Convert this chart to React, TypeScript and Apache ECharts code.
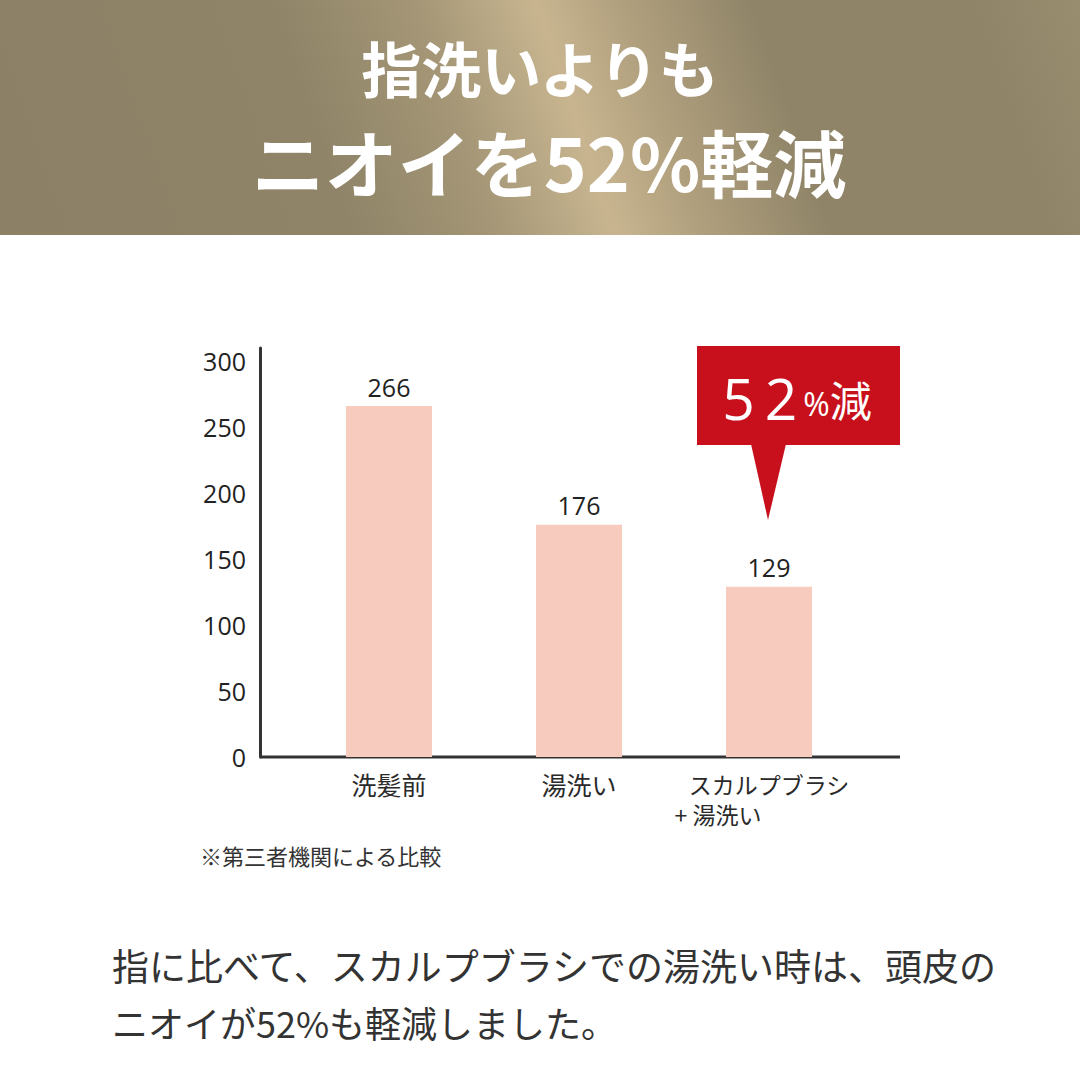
import React, { useEffect, useRef } from "react";
import * as echarts from "echarts";

const categories = ["洗髪前", "湯洗い", "スカルプブラシ\n+ 湯洗い"];
const values = [266, 176, 129];
const yTicks = [0, 50, 100, 150, 200, 250, 300];
const titleLines = ["指洗いよりも", "ニオイを52%軽減"];
const calloutText = { d1: "5", d2: "2", unit: "%", word: "減" };
const footnote = "※第三者機関による比較";
const bodyLines = [
  "指に比べて、スカルプブラシでの湯洗い時は、頭皮の",
  "ニオイが52%も軽減しました。",
];

const JP = '"Noto Sans CJK JP", "Noto Sans", sans-serif';
const NUM = '"Open Sans", "Noto Sans", sans-serif';

export default function App() {
  const ref = useRef<HTMLDivElement>(null);
  useEffect(() => {
    document.body.style.margin = "0";
    const chart = echarts.init(ref.current!, null, { renderer: "svg" });
    chart.setOption({
      animation: false,
      backgroundColor: "#ffffff",
      grid: { left: 294, right: 216, top: 348, bottom: 323 },
      xAxis: {
        type: "category",
        data: categories,
        axisLine: { show: false },
        axisTick: { show: false },
        axisLabel: {
          interval: 0,
          margin: 11,
          fontSize: 24,
          lineHeight: 32,
          color: "#2a2a2a",
          fontFamily: JP,
          formatter: (v: string) => {
            const parts = v.split("\n");
            if (parts.length === 1) return `{s|${parts[0]}}`;
            return `{a|${parts[0]}}\n{b|${parts[1]}}`;
          },
          rich: {
            s: { fontSize: 25, fontFamily: JP, color: "#2a2a2a", lineHeight: 32 },
            a: { fontSize: 23, fontFamily: JP, color: "#2a2a2a", lineHeight: 32, padding: [0, 14, 0, 14] },
            b: { fontSize: 23, fontFamily: JP, color: "#2a2a2a", lineHeight: 28, align: "left" },
          },
        },
      },
      yAxis: {
        type: "value",
        min: 0,
        max: 310,
        interval: 50,
        offset: 34,
        splitLine: { show: false },
        axisTick: { show: false },
        axisLine: { show: true, lineStyle: { color: "#333333", width: 3 } },
        axisLabel: {
          margin: 14,
          fontSize: 25,
          color: "#222222",
          fontFamily: NUM,
          showMaxLabel: false,
          formatter: (v: number) => (yTicks.includes(v) ? String(v) : ""),
        },
      },
      series: [
        {
          type: "bar",
          data: values,
          barWidth: 86,
          itemStyle: { color: "#f7cbbd" },
          label: {
            show: true,
            position: "top",
            distance: 7,
            fontSize: 25,
            color: "#222222",
            fontFamily: NUM,
          },
        },
      ],
      graphic: [
        {
          type: "rect",
          shape: { x: 0, y: 0, width: 1080, height: 235 },
          style: {
            fill: new echarts.graphic.LinearGradient(
              0,
              200,
              1080,
              -170,
              [
                { offset: 0, color: "#8c8166" },
                { offset: 0.28, color: "#8f8468" },
                { offset: 0.4, color: "#a49676" },
                { offset: 0.5, color: "#c8b590" },
                { offset: 0.57, color: "#b1a07e" },
                { offset: 0.68, color: "#8f8468" },
                { offset: 0.86, color: "#8f8468" },
                { offset: 1, color: "#9e9273" },
              ],
              true
            ),
          },
        },
        {
          type: "text",
          x: 540,
          y: 66,
          style: {
            text: titleLines[0],
            fill: "#ffffff",
            font: `bold 60px ${JP}`,
            align: "center",
            verticalAlign: "middle",
          },
        },
        {
          type: "text",
          x: 549,
          y: 160,
          style: {
            text: titleLines[1],
            fill: "#ffffff",
            font: `bold 73px ${JP}`,
            align: "center",
            verticalAlign: "middle",
          },
        },
        {
          type: "line",
          shape: { x1: 260, y1: 757, x2: 900, y2: 757 },
          style: { stroke: "#333333", lineWidth: 3 },
        },
        {
          type: "rect",
          shape: { x: 697, y: 346, width: 203, height: 99 },
          style: { fill: "#c8101c" },
        },
        {
          type: "polygon",
          shape: { points: [[751, 444], [786, 444], [768, 520]] },
          style: { fill: "#c8101c" },
        },
        {
          type: "text",
          x: 797,
          y: 398,
          style: {
            text: `{n|${calloutText.d1}}{n2|${calloutText.d2}}{p|${calloutText.unit}}{k|${calloutText.word}}`,
            align: "center",
            verticalAlign: "middle",
            rich: {
              n: { fontSize: 57, fill: "#ffffff", fontFamily: NUM, padding: [0, 10, 0, 0] },
              n2: { fontSize: 57, fill: "#ffffff", fontFamily: NUM, padding: [0, 6, 0, 0] },
              p: { fontSize: 32, fill: "#ffffff", fontFamily: NUM, padding: [10, 0, 0, 0] },
              k: { fontSize: 42, fill: "#ffffff", fontFamily: JP },
            },
          },
        },
        {
          type: "text",
          x: 200,
          y: 855,
          style: {
            text: footnote,
            fill: "#333333",
            font: `22px ${JP}`,
            verticalAlign: "middle",
          },
        },
        {
          type: "text",
          x: 112,
          y: 965,
          style: {
            text: bodyLines[0],
            fill: "#333333",
            font: `37px ${JP}`,
            verticalAlign: "middle",
          },
        },
        {
          type: "text",
          x: 112,
          y: 1022,
          style: {
            text: bodyLines[1],
            fill: "#333333",
            font: `36px ${JP}`,
            verticalAlign: "middle",
          },
        },
      ],
    });
    return () => chart.dispose();
  }, []);
  return <div ref={ref} style={{ width: 1080, height: 1080 }} />;
}
